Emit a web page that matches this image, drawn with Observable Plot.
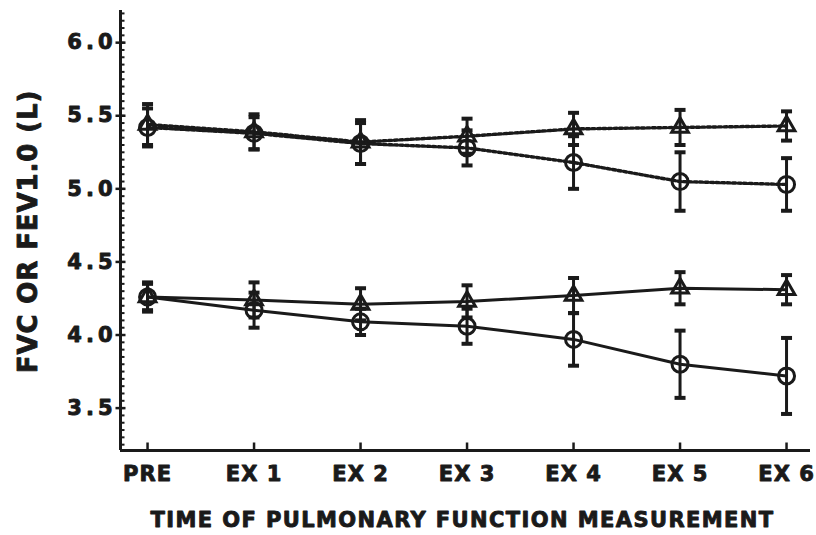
<!DOCTYPE html>
<html><head><meta charset="utf-8">
<script src="https://cdn.jsdelivr.net/npm/d3@7"></script>
<script src="https://cdn.jsdelivr.net/npm/@observablehq/plot@0.6"></script>
<style>
body{margin:0;background:#fff}
#chart text{stroke:#1a1a1a;stroke-width:0.9px;paint-order:stroke;stroke-linejoin:round}
#chart g[aria-label="y-axis tick label"] text{letter-spacing:4px}
#chart g[aria-label="x-axis tick label"] text{letter-spacing:1px}
</style>
</head><body><div id="chart"></div>
<script>
// Categories (time of measurement)
const categories = ["PRE", "EX 1", "EX 2", "EX 3", "EX 4", "EX 5", "EX 6"];

// Upper pair (dotted lines) — FVC
const fvcTriangle   = [5.44, 5.39, 5.32, 5.36, 5.41, 5.42, 5.43];
const fvcTriangleSD = [0.14, 0.12, 0.15, 0.12, 0.11, 0.12, 0.10];
const fvcCircle     = [5.42, 5.38, 5.31, 5.28, 5.18, 5.05, 5.03];
const fvcCircleSD   = [0.13, 0.11, 0.14, 0.12, 0.18, 0.20, 0.18];

// Lower pair (solid lines) — FEV1.0
const fevTriangle   = [4.26, 4.24, 4.21, 4.23, 4.27, 4.32, 4.31];
const fevTriangleSD = [0.10, 0.12, 0.11, 0.11, 0.12, 0.11, 0.10];
const fevCircle     = [4.26, 4.17, 4.09, 4.06, 3.97, 3.80, 3.72];
const fevCircleSD   = [0.09, 0.12, 0.09, 0.12, 0.18, 0.23, 0.26];

// Axis ticks and texts
const yTicks = [3.5, 4.0, 4.5, 5.0, 5.5, 6.0];
const yMinorTicks = d3.range(3.25, 6.21, 0.05);
const yDomain = [3.21, 6.22];
const xDomain = [-0.254, 6.225];
const yTitle = "FVC OR FEV1.0 (L)";
const xTitle = "TIME OF PULMONARY FUNCTION MEASUREMENT";

const seriesDefs = [
  {key: "fvcT", marker: "triangle", dashed: true,  values: fvcTriangle, sd: fvcTriangleSD},
  {key: "fvcC", marker: "circle",   dashed: true,  values: fvcCircle,   sd: fvcCircleSD},
  {key: "fevT", marker: "triangle", dashed: false, values: fevTriangle, sd: fevTriangleSD},
  {key: "fevC", marker: "circle",   dashed: false, values: fevCircle,   sd: fevCircleSD}
];
const rows = seriesDefs.flatMap(s => s.values.map((v, i) => ({
  key: s.key, marker: s.marker, dashed: s.dashed, i, v, lo: v - s.sd[i], hi: v + s.sd[i]
})));

const hline = {draw(ctx, size) { const r = Math.sqrt(size / Math.PI); ctx.moveTo(-r, 0); ctx.lineTo(r, 0); }};
const rightTick = {draw(ctx, size) { const r = Math.sqrt(size / Math.PI); ctx.moveTo(0, 0); ctx.lineTo(r, 0); }};
const upTick = {draw(ctx, size) { const r = Math.sqrt(size / Math.PI); ctx.moveTo(0, 0); ctx.lineTo(0, -r); }};

const ink = "#1a1a1a";
const font = "'DejaVu Sans', sans-serif";

const chart = Plot.plot({
  width: 816,
  height: 535,
  marginLeft: 120,
  marginRight: 6,
  marginTop: 10,
  marginBottom: 85,
  style: {fontFamily: font, fontWeight: "bold", fontSize: "21px", color: ink, background: "#fff"},
  x: {type: "linear", domain: xDomain, axis: null},
  y: {type: "linear", domain: yDomain, axis: null},
  marks: [
    // axis lines
    Plot.ruleY([yDomain[0]], {stroke: ink, strokeWidth: 3}),
    Plot.ruleX([xDomain[0]], {y1: yDomain[0], y2: yDomain[1], stroke: ink, strokeWidth: 3}),
    // y ticks
    Plot.dot(yTicks, {x: () => xDomain[0], y: d => d, symbol: hline, r: 5, stroke: ink, fill: "none", strokeWidth: 2.5}),
    Plot.dot(yMinorTicks, {x: () => xDomain[0], y: d => d, symbol: rightTick, r: 4, stroke: ink, fill: "none", strokeWidth: 2}),
    // x ticks
    Plot.dot(categories, {x: (d, i) => i, y: () => yDomain[0], symbol: upTick, r: 8, stroke: ink, fill: "none", strokeWidth: 2.5}),
    // tick labels
    Plot.axisY({ticks: yTicks, tickSize: 0, tickPadding: 4, tickFormat: d3.format(".1f"), fontSize: 21, label: null}),
    Plot.axisX({ticks: categories.map((d, i) => i), tickFormat: i => categories[i], tickSize: 0, tickPadding: 16, fontSize: 21, label: null}),
    // axis titles
    Plot.text([yTitle], {frameAnchor: "left", dx: -92, dy: 1, rotate: -90, textAnchor: "middle", lineAnchor: "middle", fontSize: 26}),
    Plot.text([xTitle], {frameAnchor: "bottom", dx: -3, dy: 70, textAnchor: "middle", lineAnchor: "middle", fontSize: 21}),
    // error bars
    Plot.ruleX(rows, {x: "i", y1: "lo", y2: "hi", stroke: ink, strokeWidth: 3}),
    Plot.dot(rows, {x: "i", y: "lo", symbol: hline, r: 5.5, stroke: ink, fill: "none", strokeWidth: 4}),
    Plot.dot(rows, {x: "i", y: "hi", symbol: hline, r: 5.5, stroke: ink, fill: "none", strokeWidth: 4}),
    // lines
    Plot.line(rows.filter(d => d.dashed), {x: "i", y: "v", z: "key", stroke: ink, strokeWidth: 3.4, strokeDasharray: "3,2.5"}),
    Plot.line(rows.filter(d => !d.dashed), {x: "i", y: "v", z: "key", stroke: ink, strokeWidth: 3}),
    // markers
    Plot.dot(rows.filter(d => d.marker === "circle"), {x: "i", y: "v", symbol: "circle", r: 8, stroke: ink, fill: "none", strokeWidth: 3}),
    Plot.dot(rows.filter(d => d.marker === "triangle"), {x: "i", y: "v", symbol: "triangle", r: 6.2, stroke: ink, fill: "none", strokeWidth: 3})
  ]
});
d3.select(chart).selectAll("text").each(function() {
  if (this.textContent === xTitle) this.style.letterSpacing = "1.4px";
  if (this.textContent === yTitle) this.style.letterSpacing = "0.9px";
});
document.getElementById("chart").appendChild(chart);
</script>
</body></html>
